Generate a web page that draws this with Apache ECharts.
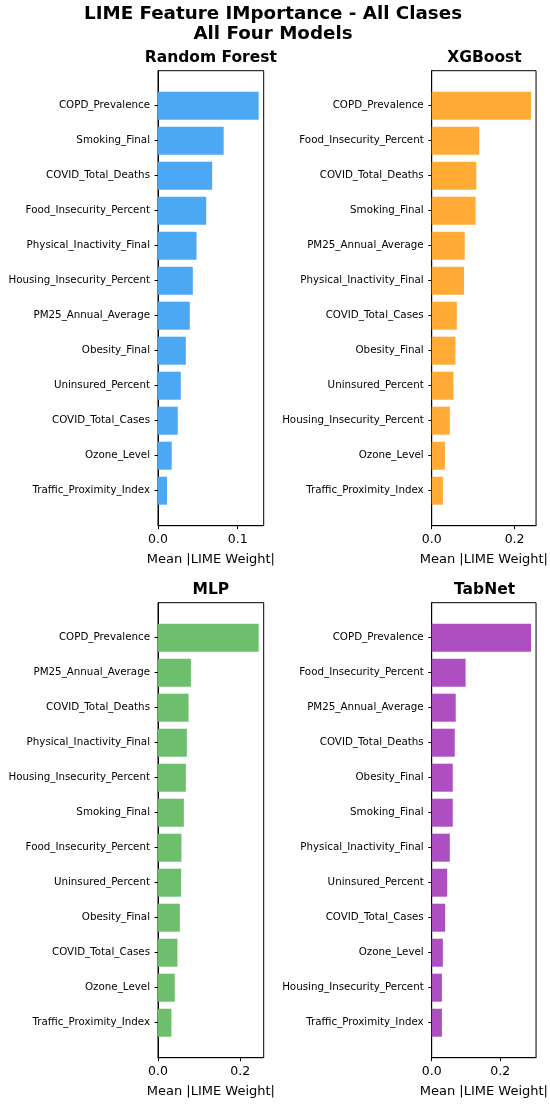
<!DOCTYPE html>
<html>
<head>
<meta charset="utf-8">
<script src="https://cdn.jsdelivr.net/npm/echarts@6/dist/echarts.min.js"></script>
<style>html,body{margin:0;padding:0;background:#fff}#c{width:550px;height:1104px}</style>
</head>
<body>
<div id="c"></div>
<script>
const rfFeatures = ['COPD_Prevalence','Smoking_Final','COVID_Total_Deaths','Food_Insecurity_Percent','Physical_Inactivity_Final','Housing_Insecurity_Percent','PM25_Annual_Average','Obesity_Final','Uninsured_Percent','COVID_Total_Cases','Ozone_Level','Traffic_Proximity_Index'];
const rfValues = [0.1263,0.0824,0.0680,0.0605,0.0483,0.0437,0.0399,0.0349,0.0286,0.0248,0.0172,0.0113];

const xgbFeatures = ['COPD_Prevalence','Food_Insecurity_Percent','COVID_Total_Deaths','Smoking_Final','PM25_Annual_Average','Physical_Inactivity_Final','COVID_Total_Cases','Obesity_Final','Uninsured_Percent','Housing_Insecurity_Percent','Ozone_Level','Traffic_Proximity_Index'];
const xgbValues = [0.2398,0.1147,0.1076,0.1060,0.0797,0.0781,0.0606,0.0574,0.0526,0.0438,0.0319,0.0271];

const mlpFeatures = ['COPD_Prevalence','PM25_Annual_Average','COVID_Total_Deaths','Physical_Inactivity_Final','Housing_Insecurity_Percent','Smoking_Final','Food_Insecurity_Percent','Uninsured_Percent','Obesity_Final','COVID_Total_Cases','Ozone_Level','Traffic_Proximity_Index'];
const mlpValues = [0.2449,0.0800,0.0743,0.0702,0.0678,0.0629,0.0571,0.0563,0.0531,0.0473,0.0408,0.0327];

const tabFeatures = ['COPD_Prevalence','Food_Insecurity_Percent','PM25_Annual_Average','COVID_Total_Deaths','Obesity_Final','Smoking_Final','Physical_Inactivity_Final','Uninsured_Percent','COVID_Total_Cases','Ozone_Level','Housing_Insecurity_Percent','Traffic_Proximity_Index'];
const tabValues = [0.2904,0.0990,0.0702,0.0673,0.0615,0.0615,0.0529,0.0452,0.0394,0.0327,0.0298,0.0298];

const xTicksRF = [0, 0.1];
const xTicksOther = [0, 0.2];

const FONT = 'DejaVu Sans';
const panels = [
  {name:'Random Forest', feats:rfFeatures, vals:rfValues, color:'#4CA8F3', ticks:xTicksRF, left:158, top:70.7},
  {name:'XGBoost', feats:xgbFeatures, vals:xgbValues, color:'#FFAB35', ticks:xTicksOther, left:431.7, top:70.7},
  {name:'MLP', feats:mlpFeatures, vals:mlpValues, color:'#6DBE6D', ticks:xTicksOther, left:158, top:602.7},
  {name:'TabNet', feats:tabFeatures, vals:tabValues, color:'#AD4FC0', ticks:xTicksOther, left:431.7, top:602.7}
];
const W = 105.7, H = 455;

const grids = [], xAxes = [], yAxes = [], series = [];
const titles = [{
  text: 'LIME Feature IMportance - All Clases\nAll Four Models',
  left: 273, top: 4, textAlign: 'center', padding: 0,
  textStyle: {fontFamily: FONT, fontSize: 18.3, fontWeight: 'bold', color: '#000', lineHeight: 20}
}];

panels.forEach((p, i) => {
  const maxV = Math.max(...p.vals) * 1.05;
  grids.push({left: p.left, top: p.top, width: W, height: H, show: true, borderColor: '#000', borderWidth: 1, backgroundColor: 'transparent'});
  titles.push({
    text: p.name, left: p.left + W / 2, top: p.top - 21, textAlign: 'center', padding: 0,
    textStyle: {fontFamily: FONT, fontSize: 15.5, fontWeight: 'bold', color: '#000'}
  });
  xAxes.push({
    type: 'value', gridIndex: i, min: 0, max: maxV,
    splitLine: {show: false},
    axisLine: {show: true, lineStyle: {color: '#000', width: 1}},
    axisTick: {show: true, length: 3.5, lineStyle: {color: '#000'}, customValues: p.ticks},
    axisLabel: {show: true, customValues: p.ticks, formatter: v => v.toFixed(1), fontFamily: FONT, fontSize: 12.5, color: '#000', margin: 8},
    name: 'Mean |LIME Weight|', nameLocation: 'middle', nameGap: 27,
    nameTextStyle: {fontFamily: FONT, fontSize: 13, color: '#000'}
  });
  const cats = [''].concat(p.feats, ['']);
  yAxes.push({
    type: 'category', gridIndex: i, data: cats, inverse: true, boundaryGap: false,
    axisLine: {show: true, lineStyle: {color: '#000', width: 1}},
    axisTick: {show: true, length: 3.5, lineStyle: {color: '#000'}, interval: (idx, v) => v !== ''},
    axisLabel: {show: true, interval: 0, fontFamily: FONT, fontSize: 10.3, color: '#000', margin: 8},
    splitLine: {show: false}
  });
  series.push({
    type: 'bar', xAxisIndex: i, yAxisIndex: i,
    data: [null].concat(p.vals, [null]),
    barWidth: '80%', itemStyle: {color: p.color},
    silent: true, animation: false
  });
});

const chart = echarts.init(document.getElementById('c'), null, {renderer: 'canvas'});
chart.setOption({
  backgroundColor: '#fff',
  animation: false,
  title: titles,
  grid: grids,
  xAxis: xAxes,
  yAxis: yAxes,
  series: series
});
</script>
</body>
</html>
